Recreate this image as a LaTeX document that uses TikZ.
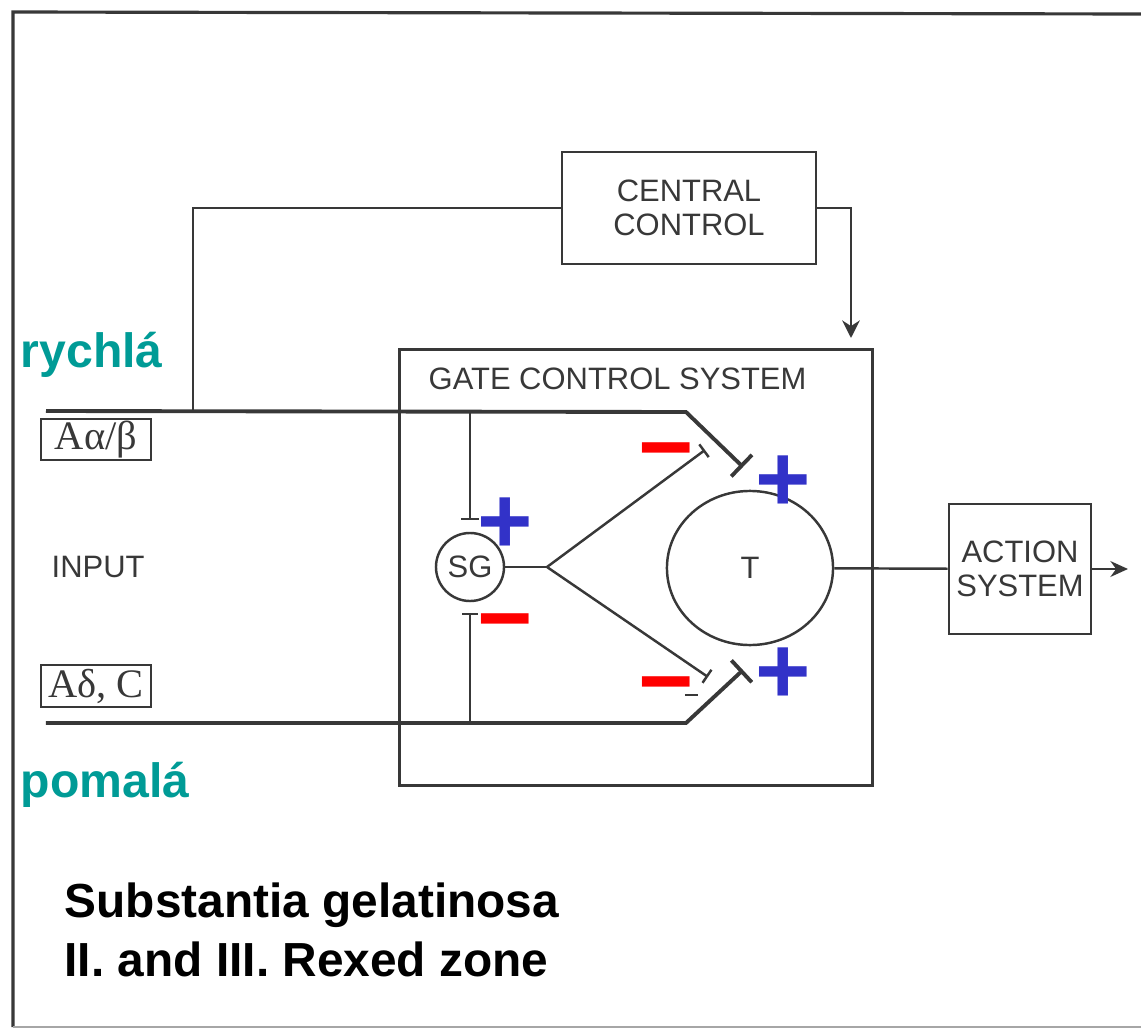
\documentclass[tikz,border=0pt]{standalone}
\usepackage{fontspec}
\setmainfont{Liberation Sans}
\newfontfamily\serifgr{Liberation Serif}
\usepackage{xcolor}
\usepackage{tikz}
\usetikzlibrary{arrows.meta,shapes.geometric,calc}
\definecolor{scan}{HTML}{383838}
\definecolor{fastslow}{RGB}{0,155,150}
\definecolor{plusblue}{RGB}{50,50,200}
\definecolor{minusred}{RGB}{255,0,0}

\begin{document}
\begin{tikzpicture}[x=0.01cm,y=-0.01cm,
	box/.style={draw=scan,line width=0.8pt,inner sep=0pt,text=scan,align=center,
		font=\fontsize{8.8}{9.7}\selectfont},
	lab/.style={text=scan,inner sep=0pt,font=\fontsize{8.8}{9.7}\selectfont},
	fibrebox/.style={draw=scan,line width=0.6pt,inner sep=0pt,text=scan,
		minimum width=1.1cm,font=\serifgr\fontsize{11.5}{12}\selectfont},
	nerve/.style={draw=scan,line width=1.1pt},
	link/.style={draw=scan,line width=0.7pt},
	speed/.style={text=fastslow,inner sep=0pt,anchor=base west,
		font=\fontsize{13.7}{16}\selectfont\bfseries},
	note/.style={text=black,inner sep=0pt,anchor=base west,
		font=\fontsize{13.6}{16}\selectfont\bfseries},
	sign/.style={inner sep=0pt,anchor=base,yshift=-0.34cm,
		font=\fontsize{27}{27}\selectfont\bfseries}]
	\useasboundingbox (0,0) rectangle (1141,1030);
	
	% frame of the scan
	\draw[scan,line width=0.9pt] (1141,14) -- (13,12) -- (13,1027);
	\draw[black!35,line width=0.6pt] (13,1027) -- (1141,1027);
	
	\node[box,minimum width=2.54cm,minimum height=1.12cm] (central) at (689,208) {CENTRAL\\CONTROL};
	\node[box,minimum width=4.72cm,minimum height=4.35cm] (gate) at (636,567.5) {};
	\node[lab,anchor=base west] (gatelab) at (428,389) {GATE CONTROL SYSTEM};
	\node[box,minimum width=1.42cm,minimum height=1.30cm] (action) at (1020,569) {ACTION\\SYSTEM};
	\node[box,line width=0.7pt,circle,minimum size=0.68cm] (sg) at (470,567) {SG};
	\node[box,line width=0.7pt,ellipse,minimum width=1.66cm,minimum height=1.54cm] (tcell) at (750,568) {T};
	
	\node[fibrebox,minimum height=0.41cm] (fastbox) at (96,439.5) {Aα/β};
	\node[fibrebox,minimum height=0.42cm] (slowbox) at (96,686) {Aδ, C};
	\node[lab,anchor=base west] (input) at (51,577) {INPUT};
	
	\coordinate (fastin) at (46,411);
	\coordinate (fastknee) at (686,412);
	\coordinate (fastend) at (743,467);
	\coordinate (slowin) at (46,723);
	\coordinate (slowknee) at (686,723);
	\coordinate (slowend) at (743,670);
	\coordinate (tap) at (193,411);
	\coordinate (ctrlin) at (851,338);
	\coordinate (sgup) at (470,520);
	\coordinate (sgdn) at (470,613);
	\coordinate (fork) at (547,567);
	\coordinate (forkup) at (705,450);
	\coordinate (forkdn) at (708,677);
	\coordinate (out) at (1128,569);
	
	\draw[nerve,-{Bar[width=8.5pt]}] (fastin) -- (fastknee) -- (fastend);
	\draw[nerve,-{Bar[width=8.5pt]}] (slowin) -- (slowknee) -- (slowend);
	\draw[link,-{Bar[width=5pt]}] (fastin -| sgup) -- (sgup);
	\draw[link,-{Bar[width=4.5pt]}] (slowin -| sgdn) -- (sgdn);
	\draw[link] (sg) -- (fork);
	\draw[link,-{Bar[width=4.5pt]}] (fork) -- (forkup);
	\draw[link,-{Bar[width=4.5pt]}] (fork) -- (forkdn);
	\draw[link] (tap) |- (central.west);
	\draw[link,-{Stealth[length=5pt,width=5pt]}] (central.east) -| (ctrlin);
	\draw[link] (tcell) -- (action);
	\draw[link,-{Stealth[length=5pt,width=4.5pt]}] (action) -- (out);
	
	% excitation / inhibition marks
	\node[sign,text=plusblue] (plustop) at (783,477) {+};
	\node[sign,text=plusblue] (plusbot) at (783,669) {+};
	\node[sign,text=plusblue] (plussg) at (505,519) {+};
	\node[sign,text=minusred] (minustop) at (666,445) {−};
	\node[sign,text=minusred] (minusbot) at (666,679) {−};
	\node[sign,text=minusred] (minussg) at (505,616) {−};
	\draw[scan,line width=0.6pt] (685,695) -- (698,695);
	
	\node[speed] (rychla) at (20,367) {rychlá};
	\node[speed] (pomala) at (20,797) {pomalá};
	\node[note] (sgnote) at (64,917) {Substantia gelatinosa};
	\node[note] (rexed) at (64,976) {II. and III. Rexed zone};
\end{tikzpicture}
\end{document}
